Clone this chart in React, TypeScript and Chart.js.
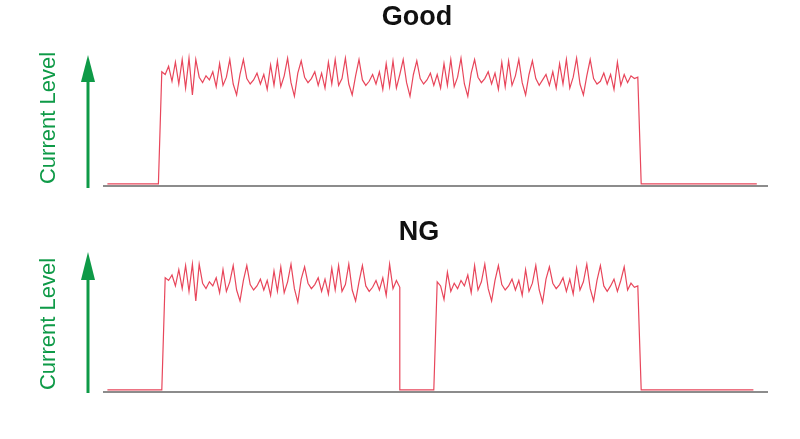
import React, { useEffect, useRef } from "react";
import { Chart, registerables } from "chart.js";

Chart.register(...registerables);

// ---- data -------------------------------------------------------------
const TIME_MAX = 195;
const OFF_LEVEL = 1.5;
const PANEL_TITLES = ["Good", "NG"];
const AXIS_LABEL = "Current Level";

// Good: current off -> on -> off
const goodOffBefore = [1, 16];
const goodOnStart = 17;
const goodOn = [
  84, 82, 88, 77, 91, 75, 93, 72, 94, 67, 93, 80, 76, 81, 78, 84, 73,
  90, 74, 80, 93, 75, 67, 82, 93, 79, 75, 78, 83, 75, 82, 71, 89, 74,
  92, 73, 81, 94, 76, 66, 83, 92, 80, 76, 79, 84, 74, 83, 72, 91, 75,
  93, 74, 79, 94, 75, 67, 81, 93, 78, 74, 77, 82, 75, 84, 71, 90, 73,
  92, 72, 82, 93, 76, 66, 82, 92, 79, 75, 78, 83, 74, 82, 72, 90, 74,
  93, 73, 80, 94, 75, 66, 83, 93, 80, 76, 79, 84, 75, 83, 71, 91, 73,
  92, 74, 81, 93, 76, 67, 82, 92, 79, 74, 78, 82, 74, 84, 72, 90, 75,
  93, 72, 80, 94, 75, 67, 81, 93, 79, 75, 77, 83, 75, 82, 71, 91, 74,
  82, 76, 81, 79, 80,
];
const goodOffAfter = [158, 192];

// NG: current drops out in the middle
const ngOffBefore = [1, 17];
const ngOn1Start = 18;
const ngOn1 = [
  84, 82, 86, 78, 90, 76, 93, 74, 94, 67, 94, 80, 76, 81, 78, 84, 73,
  90, 74, 81, 93, 75, 67, 82, 93, 79, 75, 78, 83, 75, 82, 71, 89, 74,
  92, 73, 81, 94, 76, 66, 83, 92, 80, 76, 79, 84, 74, 83, 72, 91, 75,
  93, 74, 79, 94, 75, 67, 81, 93, 78, 74, 77, 82, 75, 84, 71, 94, 76, 82, 77,
];
const ngGap = [87, 97];
const ngOn2Start = 98;
const ngOn2 = [
  81, 78, 68, 88, 74, 80, 76, 82, 78, 86, 73, 93, 75, 81, 94, 76, 67,
  82, 93, 79, 75, 78, 83, 75, 82, 71, 90, 74, 80, 93, 75, 66, 83, 92,
  80, 76, 79, 84, 74, 83, 72, 91, 75, 81, 94, 76, 67, 82, 93, 78, 74,
  78, 83, 74, 82, 92, 75, 80, 77, 78,
];
const ngOffAfter = [158, 191];

// ---- helpers ----------------------------------------------------------
type Pt = { x: number; y: number };
const seg = (start: number, values: number[]): Pt[] =>
  values.map((v, i) => ({ x: start + i, y: v }));
const off = (times: number[]): Pt[] => times.map((t) => ({ x: t, y: OFF_LEVEL }));

const goodSeries: Pt[] = [
  ...off(goodOffBefore),
  ...seg(goodOnStart, goodOn),
  ...off(goodOffAfter),
];
const ngSeries: Pt[] = [
  ...off(ngOffBefore),
  ...seg(ngOn1Start, ngOn1),
  ...off(ngGap),
  ...seg(ngOn2Start, ngOn2),
  ...off(ngOffAfter),
];

const GREEN = "#0e9a47";
const RED = "#e8465b";
const GRAY = "#8c8c8c";

const decorPlugin = {
  id: "decor",
  afterDraw(chart: any, _args: any, opts: any) {
    const { ctx, chartArea } = chart;
    ctx.save();
    // title
    ctx.fillStyle = "#111";
    ctx.font = "bold 27px 'Liberation Sans', Arial, sans-serif";
    ctx.textAlign = "center";
    ctx.textBaseline = "alphabetic";
    ctx.fillText(opts.title, opts.titleX, opts.titleBaseline);
    // arrow
    const ax = chartArea.left - 16;
    ctx.strokeStyle = GREEN;
    ctx.fillStyle = GREEN;
    ctx.lineWidth = 3;
    ctx.beginPath();
    ctx.moveTo(ax, opts.arrowBottom);
    ctx.lineTo(ax, opts.headBottom - 1);
    ctx.stroke();
    ctx.beginPath();
    ctx.moveTo(ax, opts.arrowTop);
    ctx.lineTo(ax + 7, opts.headBottom);
    ctx.lineTo(ax - 7, opts.headBottom);
    ctx.closePath();
    ctx.fill();
    // label
    ctx.translate(chartArea.left - 49, opts.labelCenterY);
    ctx.rotate(-Math.PI / 2);
    ctx.font = "22px 'Liberation Sans', Arial, sans-serif";
    ctx.textAlign = "center";
    ctx.textBaseline = "alphabetic";
    ctx.fillText(AXIS_LABEL, 0, 0);
    ctx.restore();
  },
};

type PanelProps = {
  top: number;
  height: number;
  data: Pt[];
  padTop: number;
  padBottom: number;
  decor: any;
};

function Panel({ top, height, data, padTop, padBottom, decor }: PanelProps) {
  const ref = useRef<HTMLCanvasElement | null>(null);
  useEffect(() => {
    if (!ref.current) return;
    const chart = new Chart(ref.current, {
      type: "line",
      data: {
        datasets: [
          {
            data,
            borderColor: RED,
            borderWidth: 1.2,
            pointRadius: 0,
            tension: 0,
            fill: false,
          },
        ],
      },
      options: {
        animation: false,
        responsive: false,
        events: [],
        layout: { padding: { left: 104, right: 33, top: padTop, bottom: padBottom } },
        plugins: {
          legend: { display: false },
          title: { display: false },
          tooltip: { enabled: false },
          decor,
        } as any,
        scales: {
          x: {
            type: "linear",
            min: 0,
            max: TIME_MAX,
            grid: { display: false },
            ticks: { display: false },
            border: { display: true, color: GRAY, width: 2 },
          },
          y: {
            type: "linear",
            min: 0,
            max: 100,
            display: false,
          },
        },
      },
      plugins: [decorPlugin],
    });
    return () => chart.destroy();
  }, []);
  return (
    <canvas
      ref={ref}
      width={800}
      height={height}
      style={{ position: "absolute", left: 0, top, width: 800, height }}
    />
  );
}

export default function App() {
  return (
    <div
      style={{
        position: "absolute",
        left: 0,
        top: 0,
        width: 800,
        height: 439,
        background: "#fff",
        overflow: "hidden",
      }}
    >
      <Panel
        top={0}
        height={210}
        data={goodSeries}
        padTop={50}
        padBottom={16}
        decor={{
          title: PANEL_TITLES[0],
          titleX: 417,
          titleBaseline: 25,
          arrowTop: 55,
          headBottom: 82,
          arrowBottom: 188,
          labelCenterY: 118,
        }}
      />
      <Panel
        top={210}
        height={229}
        data={ngSeries}
        padTop={46}
        padBottom={39}
        decor={{
          title: PANEL_TITLES[1],
          titleX: 419,
          titleBaseline: 30,
          arrowTop: 42,
          headBottom: 70,
          arrowBottom: 183,
          labelCenterY: 114,
        }}
      />
    </div>
  );
}
